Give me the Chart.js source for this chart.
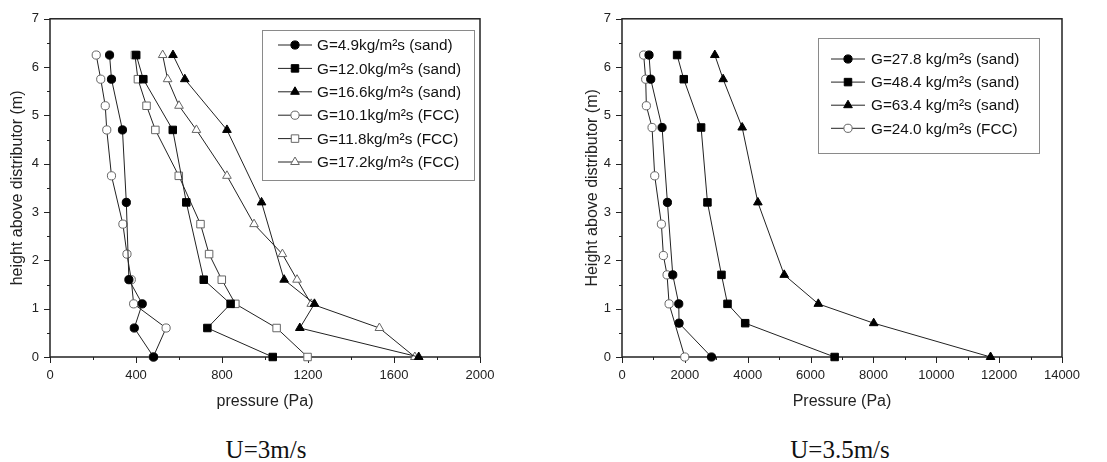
<!DOCTYPE html>
<html>
<head>
<meta charset="utf-8">
<title>Pressure profiles</title>
<script src="https://cdn.jsdelivr.net/npm/chart.js@4.4.1/dist/chart.umd.min.js"></script>
<style>
    html, body { margin: 0; padding: 0; background: #fff; }
    body { width: 1107px; height: 462px; position: relative; overflow: hidden; }
    canvas { position: absolute; top: 0; }
    #chartU3 { left: 0; }
    #chartU35 { left: 553px; }
    .caption {
        position: absolute;
        top: 436px;
        line-height: 28px;
        font-family: "Liberation Serif", "Times New Roman", serif;
        font-size: 25px;
        color: #111;
        transform: translateX(-50%);
        white-space: nowrap;
    }
</style>
</head>
<body>
<canvas id="chartU3" width="553" height="420"></canvas>
<canvas id="chartU35" width="554" height="420"></canvas>
<div class="caption" style="left:266px">U=3m/s</div>
<div class="caption" style="left:840px">U=3.5m/s</div>
<script>
// U = 3 m/s
const heightsSandU3 = [6.25, 5.75, 4.7, 3.2, 1.6, 1.1, 0.6, 0];
const heightsFccU3 = [6.25, 5.75, 5.2, 4.7, 3.75, 2.75, 2.13, 1.6, 1.1, 0.6, 0];
const sand49 = [277, 286, 337, 355, 367, 429, 392, 482];
const sand120 = [401, 434, 571, 634, 715, 840, 732, 1036];
const sand166 = [572, 627, 823, 984, 1089, 1230, 1162, 1715];
const fcc101 = [215, 236, 257, 264, 286, 339, 358, 378, 389, 540, 480];
const fcc118 = [395, 409, 449, 490, 599, 700, 740, 799, 862, 1054, 1198];
const fcc172 = [524, 547, 600, 681, 823, 949, 1081, 1149, 1215, 1532, 1697];
const labelsU3 = [
    "G=4.9kg/m²s (sand)",
    "G=12.0kg/m²s (sand)",
    "G=16.6kg/m²s (sand)",
    "G=10.1kg/m²s (FCC)",
    "G=11.8kg/m²s (FCC)",
    "G=17.2kg/m²s (FCC)"
];
const xTicksU3 = [0, 400, 800, 1200, 1600, 2000];

// U = 3.5 m/s
const heightsSandU35 = [6.25, 5.75, 4.75, 3.2, 1.7, 1.1, 0.7, 0];
const heightsFccU35 = [6.25, 5.75, 5.2, 4.75, 3.75, 2.75, 2.1, 1.7, 1.1, 0];
const sand278 = [860, 914, 1275, 1445, 1615, 1806, 1816, 2847];
const sand484 = [1753, 1965, 2517, 2719, 3165, 3357, 3920, 6766];
const sand634 = [2953, 3218, 3824, 4323, 5162, 6246, 8009, 11727];
const fcc240 = [690, 754, 775, 956, 1041, 1253, 1317, 1434, 1498, 1997];
const labelsU35 = [
    "G=27.8 kg/m²s (sand)",
    "G=48.4 kg/m²s (sand)",
    "G=63.4 kg/m²s (sand)",
    "G=24.0 kg/m²s (FCC)"
];
const xTicksU35 = [0, 2000, 4000, 6000, 8000, 10000, 12000, 14000];
const yTicks = [0, 1, 2, 3, 4, 5, 6, 7];

const FONT = "'Liberation Sans', Arial, sans-serif";
const INK = "#222";
const OPEN_INK = "#666";

function toPoints(pressures, heights) {
    return pressures.map((p, i) => ({ x: p, y: heights[i] }));
}

// Chart.js radius: rect side = r * sqrt(2), triangle circumradius = r
function markerSize(style) {
    if (style === "triangle") {
        return 5;
    }
    return style === "rect" ? 5.3 : 4.1;
}

function makeSeries(label, pressures, heights, style, filled) {
    return {
        label,
        data: toPoints(pressures, heights),
        showLine: true,
        clip: false,
        borderColor: INK,
        borderWidth: 1,
        pointStyle: style,
        pointRadius: markerSize(style),
        pointBorderWidth: 1,
        pointBorderColor: filled ? "#000" : OPEN_INK,
        pointBackgroundColor: filled ? "#000" : "#fff",
        filledMarker: filled
    };
}

// same geometry as Chart.js point styles, for the legend samples
function drawMarker(ctx, style, x, y, r, filled) {
    ctx.save();
    ctx.fillStyle = filled ? "#000" : "#fff";
    ctx.strokeStyle = filled ? "#000" : OPEN_INK;
    ctx.lineWidth = 1;
    ctx.beginPath();
    if (style === "circle") {
        ctx.arc(x, y, r, 0, Math.PI * 2);
    } else if (style === "rect") {
        const half = r * Math.SQRT1_2;
        ctx.rect(x - half, y - half, half * 2, half * 2);
    } else {
        for (let k = 0; k < 3; k++) {
            const ang = -Math.PI / 2 + k * (2 * Math.PI / 3);
            const px = x + Math.cos(ang) * r;
            const py = y + Math.sin(ang) * r;
            if (k === 0) {
                ctx.moveTo(px, py);
            } else {
                ctx.lineTo(px, py);
            }
        }
        ctx.closePath();
    }
    ctx.fill();
    ctx.stroke();
    ctx.restore();
}

// box frame plus outward major/minor ticks on the bottom and left axes
const frameAndTicks = {
    id: "frameAndTicks",
    beforeDatasetsDraw(chart, args, opts) {
        const { ctx, chartArea: a, scales } = chart;
        ctx.save();
        ctx.strokeStyle = INK;
        ctx.lineWidth = 1;
        ctx.beginPath();
        const xSteps = Math.round(scales.x.max / opts.xMinor);
        for (let i = 0; i <= xSteps; i++) {
            const px = Math.round(scales.x.getPixelForValue(i * opts.xMinor)) + 0.5;
            const len = i % 2 === 0 ? 6 : 3;
            ctx.moveTo(px, a.bottom);
            ctx.lineTo(px, a.bottom + len);
        }
        const ySteps = Math.round(scales.y.max / 0.5);
        for (let i = 0; i <= ySteps; i++) {
            const py = Math.round(scales.y.getPixelForValue(i * 0.5)) + 0.5;
            const len = i % 2 === 0 ? 6 : 3;
            ctx.moveTo(a.left, py);
            ctx.lineTo(a.left - len, py);
        }
        ctx.stroke();
        ctx.lineWidth = 1.5;
        ctx.strokeRect(a.left, a.top, a.right - a.left, a.bottom - a.top);
        ctx.restore();
    }
};

// legend drawn as line-marker-line samples inside a grey box
const seriesKey = {
    id: "seriesKey",
    afterDraw(chart, args, opts) {
        const { ctx } = chart;
        ctx.save();
        ctx.strokeStyle = "#8a8a8a";
        ctx.lineWidth = 1;
        ctx.strokeRect(opts.x + 0.5, opts.y + 0.5, opts.width, opts.height);
        ctx.font = "15.3px " + FONT;
        ctx.textBaseline = "middle";
        chart.data.datasets.forEach((ds, i) => {
            const cy = opts.firstRow + i * opts.rowGap;
            const cx = opts.sampleX;
            ctx.strokeStyle = INK;
            ctx.lineWidth = 1;
            ctx.beginPath();
            ctx.moveTo(cx - 17, cy);
            ctx.lineTo(cx + 17, cy);
            ctx.stroke();
            drawMarker(ctx, ds.pointStyle, cx, cy, markerSize(ds.pointStyle), ds.filledMarker);
            ctx.fillStyle = "#111";
            ctx.fillText(ds.label, opts.textX, cy + 1);
        });
        ctx.restore();
    }
};

function buildOptions(cfg) {
    return {
        responsive: false,
        animation: false,
        layout: { padding: { left: 0, right: cfg.padRight, top: 18, bottom: 0 } },
        scales: {
            x: {
                type: "linear",
                min: 0,
                max: cfg.xMax,
                grid: { display: false, drawTicks: false },
                border: { display: false },
                afterBuildTicks: (scale) => {
                    scale.ticks = cfg.xTicks.map((v) => ({ value: v }));
                },
                afterFit: (scale) => { scale.height = 63; },
                ticks: {
                    padding: 11,
                    color: INK,
                    font: { family: FONT, size: 13 },
                    maxRotation: 0,
                    callback: (value) => String(value)
                },
                title: {
                    display: true,
                    text: cfg.xTitle,
                    color: INK,
                    font: { family: FONT, size: 16 },
                    padding: { top: 0, bottom: 9 }
                }
            },
            y: {
                type: "linear",
                min: 0,
                max: 7,
                grid: { display: false, drawTicks: false },
                border: { display: false },
                afterBuildTicks: (scale) => {
                    scale.ticks = yTicks.map((v) => ({ value: v }));
                },
                afterFit: (scale) => { scale.width = cfg.yWidth; },
                ticks: {
                    padding: 11,
                    color: INK,
                    font: { family: FONT, size: 13 },
                    callback: (value) => String(value)
                },
                title: {
                    display: true,
                    text: cfg.yTitle,
                    color: INK,
                    font: { family: FONT, size: 16 },
                    padding: { top: cfg.yTitlePad, bottom: 0 }
                }
            }
        },
        plugins: {
            legend: { display: false },
            tooltip: { enabled: false },
            frameAndTicks: { xMinor: cfg.xMinor },
            seriesKey: cfg.key
        }
    };
}

new Chart(document.getElementById("chartU3"), {
    type: "scatter",
    data: {
        datasets: [
            makeSeries(labelsU3[0], sand49, heightsSandU3, "circle", true),
            makeSeries(labelsU3[1], sand120, heightsSandU3, "rect", true),
            makeSeries(labelsU3[2], sand166, heightsSandU3, "triangle", true),
            makeSeries(labelsU3[3], fcc101, heightsFccU3, "circle", false),
            makeSeries(labelsU3[4], fcc118, heightsFccU3, "rect", false),
            makeSeries(labelsU3[5], fcc172, heightsFccU3, "triangle", false)
        ]
    },
    options: buildOptions({
        padRight: 73,
        xMax: 2000,
        xMinor: 200,
        xTicks: xTicksU3,
        yWidth: 50,
        yTitlePad: 8,
        xTitle: "pressure (Pa)",
        yTitle: "height above distributor (m)",
        key: { x: 262, y: 30, width: 212, height: 150, firstRow: 45, rowGap: 23.4, sampleX: 295, textX: 317 }
    }),
    plugins: [frameAndTicks, seriesKey]
});

new Chart(document.getElementById("chartU35"), {
    type: "scatter",
    data: {
        datasets: [
            makeSeries(labelsU35[0], sand278, heightsSandU35, "circle", true),
            makeSeries(labelsU35[1], sand484, heightsSandU35, "rect", true),
            makeSeries(labelsU35[2], sand634, heightsSandU35, "triangle", true),
            makeSeries(labelsU35[3], fcc240, heightsFccU35, "circle", false)
        ]
    },
    options: buildOptions({
        padRight: 45,
        xMax: 14000,
        xMinor: 1000,
        xTicks: xTicksU35,
        yWidth: 69,
        yTitlePad: 30,
        xTitle: "Pressure (Pa)",
        yTitle: "Height above distributor (m)",
        key: { x: 265, y: 38, width: 221, height: 115, firstRow: 59, rowGap: 23.1, sampleX: 295, textX: 318 }
    }),
    plugins: [frameAndTicks, seriesKey]
});
</script>
</body>
</html>
